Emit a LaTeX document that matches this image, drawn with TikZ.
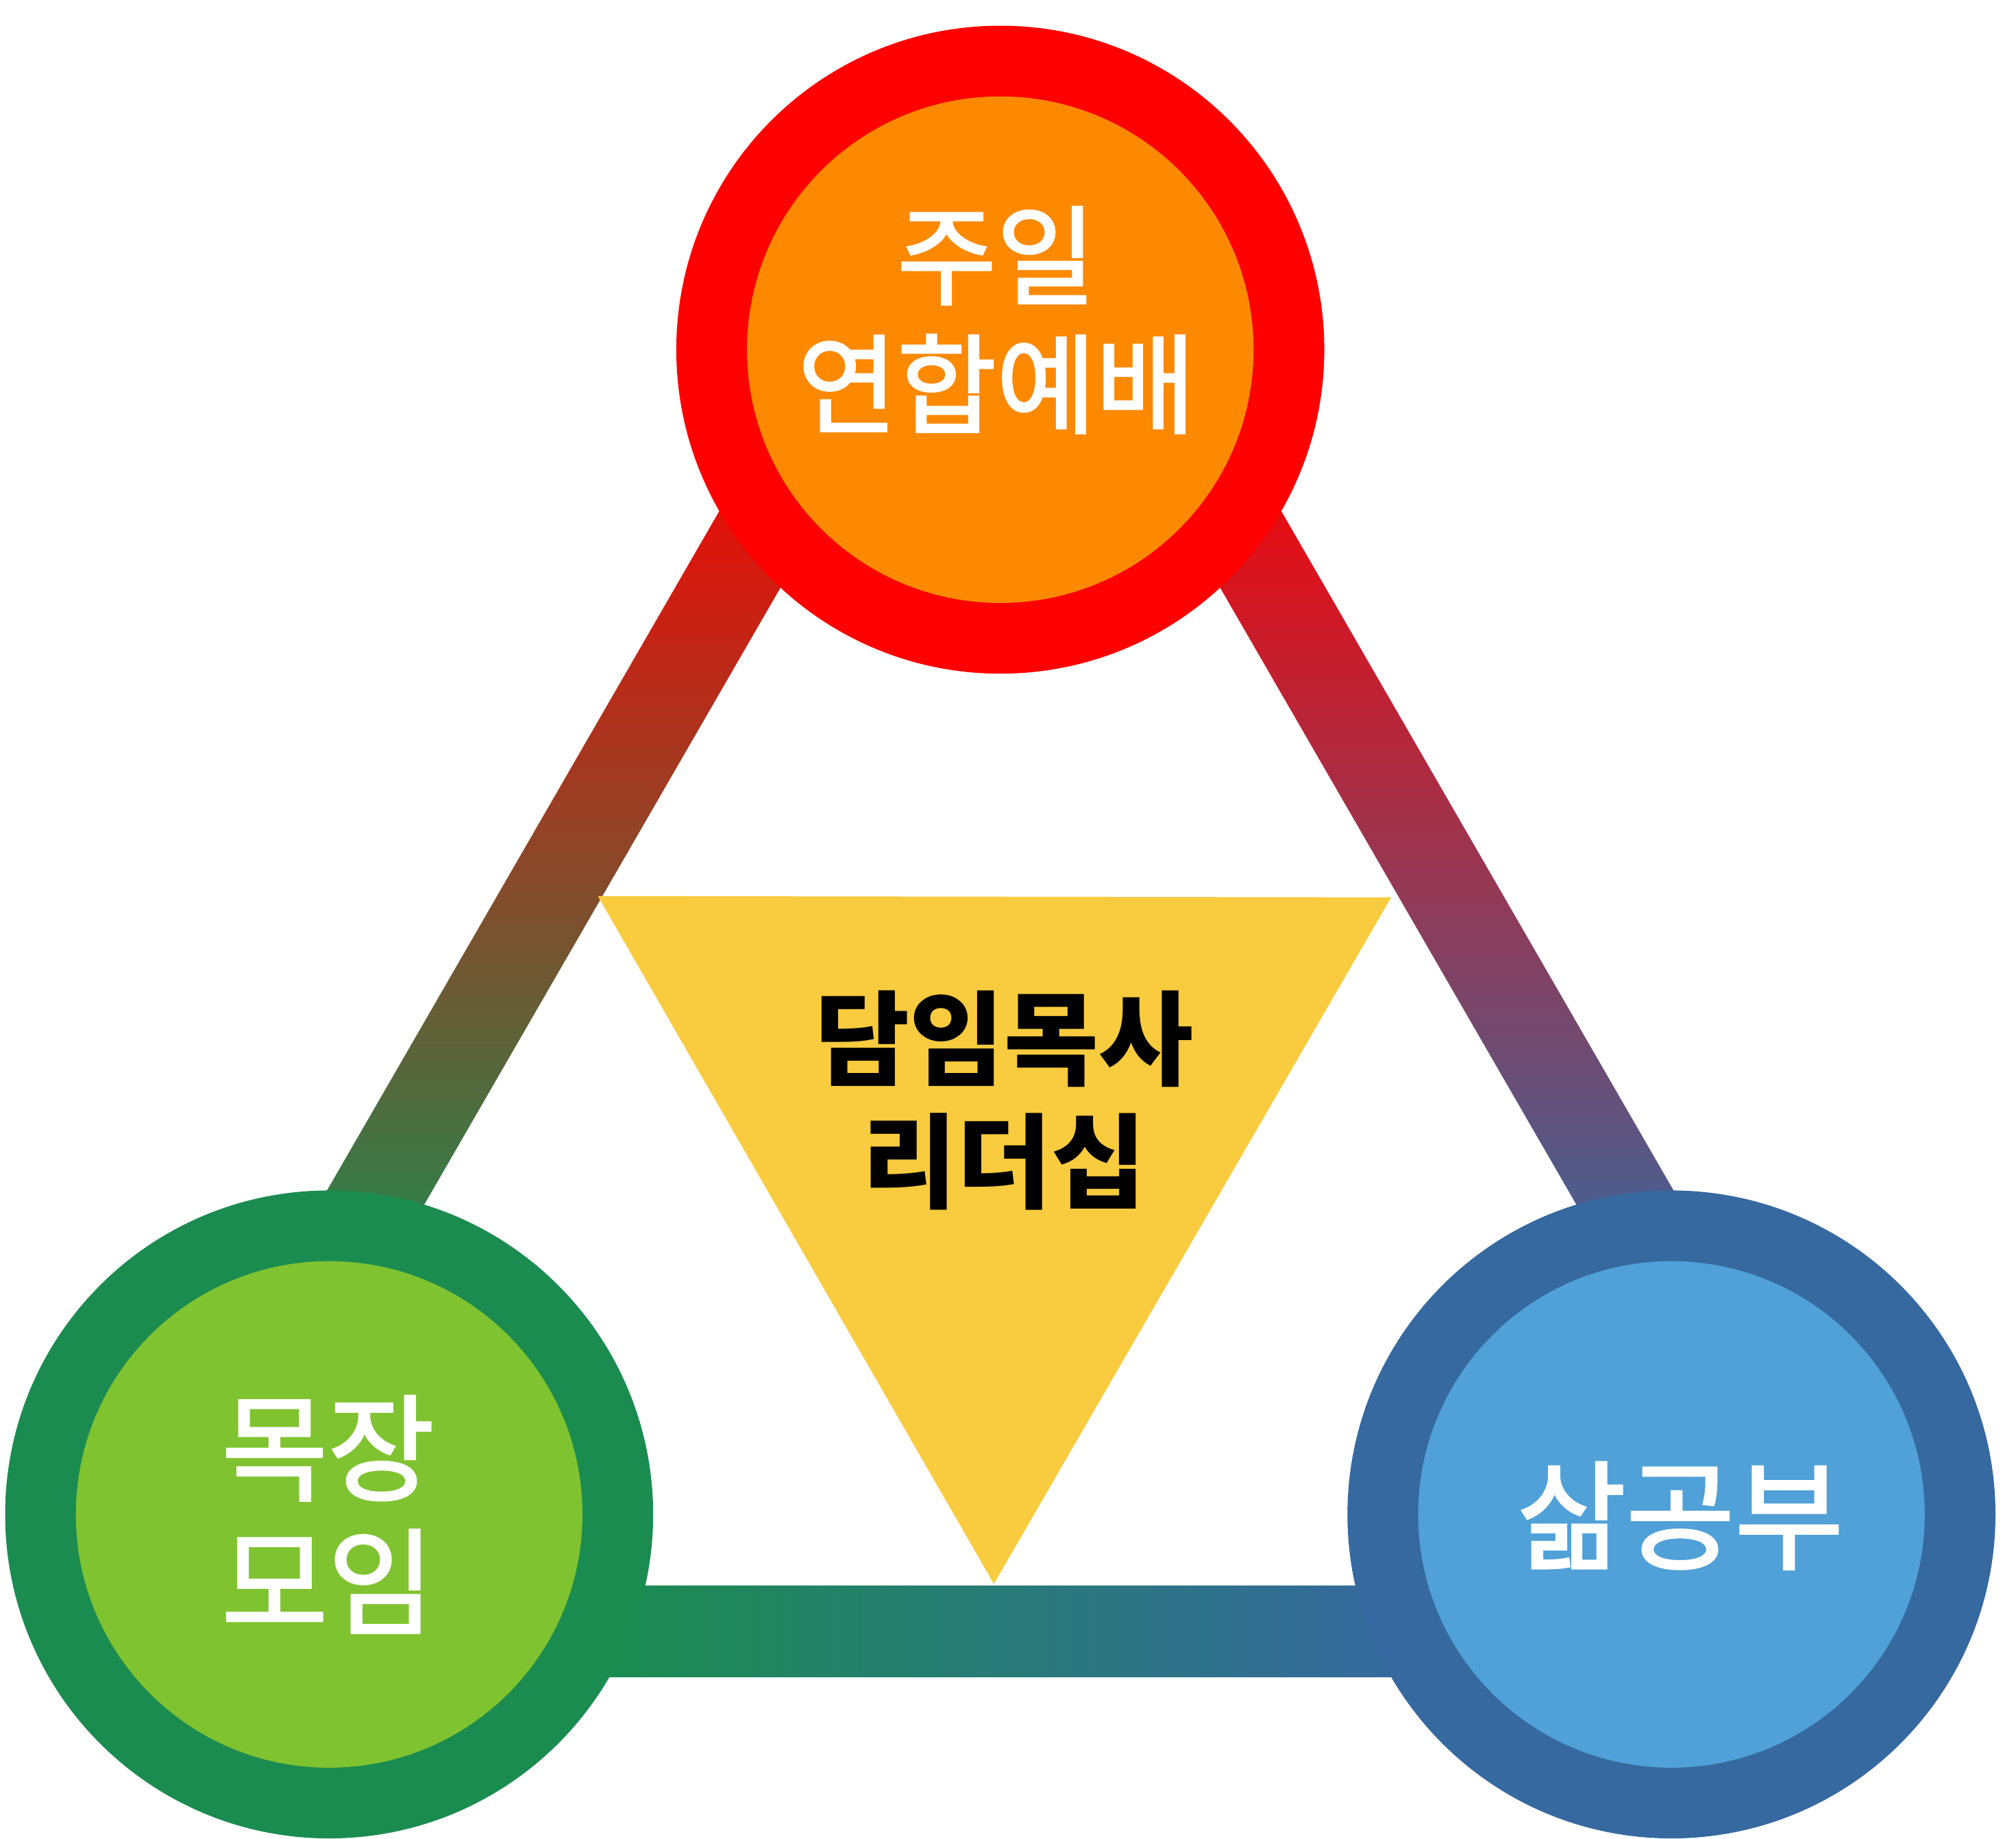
\documentclass[tikz,border=0pt]{standalone}
\usepackage{fontspec}
\newfontfamily\kr{Noto Sans CJK KR}
\newfontfamily\krm[FakeBold=2]{Noto Sans CJK KR}
\usetikzlibrary{calc}
\definecolor{ringred}{HTML}{FF0000}
\definecolor{fillorange}{HTML}{FD8900}
\definecolor{ringgreen}{HTML}{1B8C50}
\definecolor{fillgreen}{HTML}{80C330}
\definecolor{ringblue}{HTML}{36699F}
\definecolor{fillblue}{HTML}{4FA1D7}
\definecolor{tri}{HTML}{F9CB3E}
\tikzset{
  ring/.style={circle, inner sep=0pt, minimum size=504pt},
  core/.style={circle, inner sep=0pt, minimum size=394pt},
  wlabel/.style={inner sep=0pt, align=center, text=white},
}
\begin{document}
\begin{tikzpicture}[x=1pt,y=-1pt]
\useasboundingbox (0,0) rectangle (1568,1430);
\fill[white] (0,0) rectangle (1568,1430);
% mid-line triangle of the band
\coordinate (T) at (778,90);
\coordinate (L) at (97.3,1269);
\coordinate (R) at (1458.7,1269);
% left band
\shade[top color=ringred, bottom color=ringgreen]
  ($(T)!0.2036!(L)+(-30.74,-17.75)$) -- ($(T)!0.7718!(L)+(-30.74,-17.75)$) --
  ($(T)!0.7718!(L)+(30.74,17.75)$) -- ($(T)!0.2036!(L)+(30.74,17.75)$) -- cycle;
% right band
\shade[top color=ringred, bottom color=ringblue]
  ($(T)!0.2036!(R)+(30.74,-17.75)$) -- ($(T)!0.7718!(R)+(30.74,-17.75)$) --
  ($(T)!0.7718!(R)+(-30.74,17.75)$) -- ($(T)!0.2036!(R)+(-30.74,17.75)$) -- cycle;
% bottom band
\shade[left color=ringgreen, right color=ringblue]
  ($(L)!0.2738!(R)+(0,-35.5)$) -- ($(L)!0.7292!(R)+(0,-35.5)$) --
  ($(L)!0.7292!(R)+(0,35.5)$) -- ($(L)!0.2738!(R)+(0,35.5)$) -- cycle;
% circles
\node[ring, fill=ringred] (topring) at (778,272) {};
\node[core, fill=fillorange] (topcore) at (778,272) {};
\node[ring, fill=ringgreen] (leftring) at (256,1178) {};
\node[core, fill=fillgreen] (leftcore) at (256,1178) {};
\node[ring, fill=ringblue] (rightring) at (1300,1178) {};
\node[core, fill=fillblue] (rightcore) at (1300,1178) {};
% yellow triangle
\fill[tri] (465,697) -- (1082,698) -- (773,1232) -- cycle;
% labels
\node[wlabel, font=\krm\fontsize{84}{100}\selectfont] (toptext) at (775,249) {주일\\연합예배};
\node[wlabel, font=\krm\fontsize{90}{104}\selectfont] (lefttext) at (255,1178) {목장\\모임};
\node[wlabel, font=\krm\fontsize{92}{104}\selectfont] (righttext) at (1307,1179) {삶공부};
\node[inner sep=0pt, align=center, text=black, font=\kr\bfseries\fontsize{80}{95}\selectfont] (centertext) at (781,856) {담임목사\\리더십};
\end{tikzpicture}
\end{document}
